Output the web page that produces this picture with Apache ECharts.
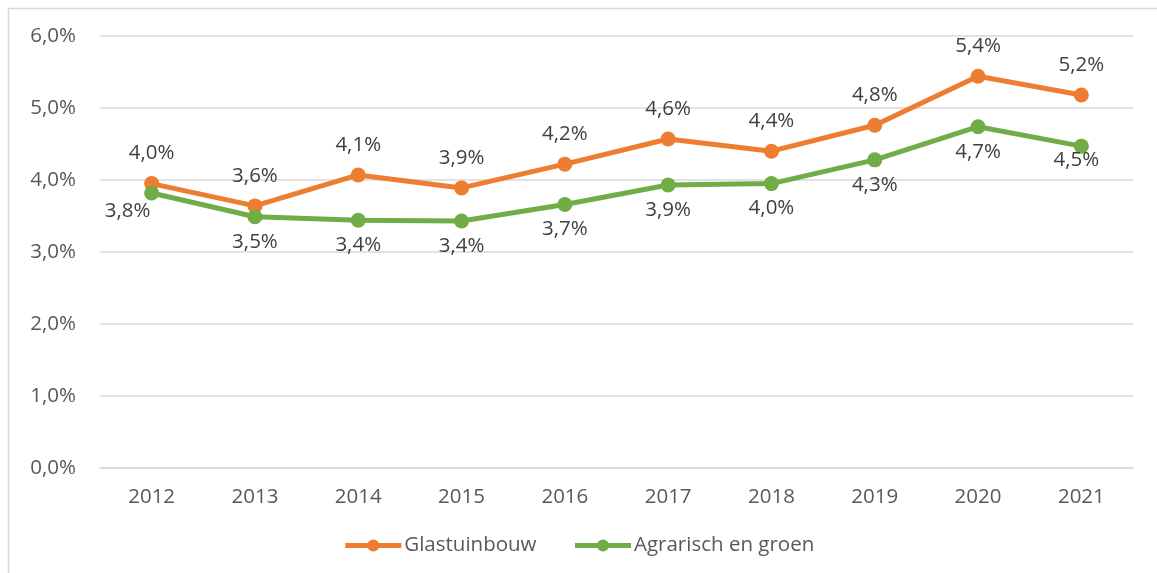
<!DOCTYPE html>
<html><head><meta charset="utf-8">
<script src="https://cdn.jsdelivr.net/npm/echarts@6/dist/echarts.min.js"></script>
<style>html,body{margin:0;padding:0;background:#fff}#c{width:1157px;height:573px}</style>
</head><body><div id="c"></div>
<script>
const years = ['2012','2013','2014','2015','2016','2017','2018','2019','2020','2021'];
const glastuinbouw = [3.95, 3.64, 4.07, 3.89, 4.22, 4.57, 4.40, 4.76, 5.44, 5.18];
const agrarisch = [3.82, 3.49, 3.44, 3.43, 3.66, 3.93, 3.95, 4.28, 4.74, 4.47];
const seriesNames = ['Glastuinbouw', 'Agrarisch en groen'];
const FONT = '"Open Sans", "Noto Sans", sans-serif';
const FS = 20.5;
const fmt = v => (Math.round(v * 10) / 10).toFixed(1).replace('.', ',') + '%';
// label nudges for the green series (as in the reference)
const greenData = agrarisch.map((v, i) => {
  if (i === 0) return {value: v, label: {offset: [-24, -7]}};
  if (i === agrarisch.length - 1) return {value: v, label: {offset: [-5, -11]}};
  return v;
});
const chart = echarts.init(document.getElementById('c'));
chart.setOption({
  animation: false,
  textStyle: {fontFamily: FONT},
  graphic: [{type:'rect', shape:{x:8.5,y:8.5,width:1200,height:620}, style:{fill:'none', stroke:'#d9d9d9', lineWidth:1.5}, silent:true}],
  grid: {left: 100, right: 24, top: 36, bottom: 105},
  xAxis: {
    type: 'category', data: years, boundaryGap: true,
    axisLine: {lineStyle: {color: '#d9d9d9', width: 1.5}},
    axisTick: {show: false},
    axisLabel: {color: '#595959', fontSize: FS, margin: 19, fontFamily: FONT}
  },
  yAxis: {
    type: 'value', min: 0, max: 6, interval: 1,
    axisLine: {show: false}, axisTick: {show: false},
    splitLine: {lineStyle: {color: '#d9d9d9', width: 1.5}},
    axisLabel: {color: '#595959', fontSize: FS, margin: 24, fontFamily: FONT, formatter: v => fmt(v)}
  },
  legend: {
    bottom: 12, left: 'center', itemWidth: 56, itemHeight: 15, itemGap: 36,
    lineStyle: {width: 5},
    textStyle: {color: '#595959', fontSize: FS, fontFamily: FONT, padding: [0,0,0,-2]},
    data: seriesNames
  },
  series: [
    {name: seriesNames[0], type: 'line', data: glastuinbouw, color: '#ED7D31',
     lineStyle: {width: 5}, symbol: 'circle', symbolSize: 15,
     label: {show: true, position: 'top', distance: 12, color: '#404040', fontSize: FS, fontFamily: FONT, formatter: p => fmt(p.value)}},
    {name: seriesNames[1], type: 'line', data: greenData, color: '#70AD47',
     lineStyle: {width: 5}, symbol: 'circle', symbolSize: 15,
     label: {show: true, position: 'bottom', distance: 7, color: '#404040', fontSize: FS, fontFamily: FONT, formatter: p => fmt(p.value)}}
  ]
});
</script></body></html>
